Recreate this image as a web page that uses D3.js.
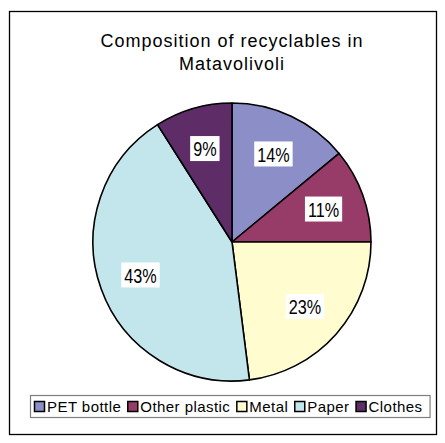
<!DOCTYPE html>
<html>
<head>
<meta charset="utf-8">
<script src="https://cdn.jsdelivr.net/npm/d3@7.9.0/dist/d3.min.js"></script>
<style>
  html, body { margin: 0; padding: 0; background: #fff; }
  svg { display: block; font-family: "Liberation Sans", Arial, sans-serif; }
</style>
</head>
<body>
<svg id="chart" width="445" height="443"></svg>
<script>
// data
const categories = ['PET bottle', 'Other plastic', 'Metal', 'Paper', 'Clothes'];
const shares = [14, 11, 23, 43, 9];
const colours = ['#8c8fc7', '#973b69', '#fffcd0', '#c3e6ec', '#5e2c67'];
const titleLines = ['Composition of recyclables in', 'Matavolivoli'];

const svg = d3.select('#chart');
const cx = 232, cy = 242, radius = 139;

// outer chart frame
svg.append('rect')
  .attr('x', 9.5).attr('y', 11.5)
  .attr('width', 427).attr('height', 423)
  .attr('fill', '#fff')
  .attr('stroke', '#000')
  .attr('stroke-width', 1.3);

// title
svg.append('g')
  .selectAll('text')
  .data(titleLines)
  .join('text')
  .attr('x', cx)
  .attr('y', (d, i) => 47 + i * 23)
  .attr('text-anchor', 'middle')
  .attr('font-size', 18)
  .attr('letter-spacing', 1)
  .attr('fill', '#000')
  .text((d) => d);

let data = categories.map((name, i) => ({ name, value: shares[i], colour: colours[i] }));

let pie = d3.pie().sort(null).value((d) => d.value);
let arcData = pie(data);
let arc = d3.arc().innerRadius(0).outerRadius(radius);
let labelArc = d3.arc().innerRadius(radius * 0.7).outerRadius(radius * 0.7);

let g = svg.append('g').attr('transform', `translate(${cx},${cy})`);

g.selectAll('path')
  .data(arcData)
  .join('path')
  .attr('d', arc)
  .attr('fill', (d) => d.data.colour)
  .attr('stroke', '#000')
  .attr('stroke-width', 1.6)
  .attr('stroke-linejoin', 'round');

// percentage labels with white boxes
let labels = g.selectAll('g.lbl')
  .data(arcData)
  .join('g')
  .attr('class', 'lbl')
  .attr('transform', (d) => `translate(${labelArc.centroid(d)})`);

labels.append('text')
  .attr('text-anchor', 'middle')
  .attr('dy', '0.37em')
  .attr('font-size', 18)
  .attr('transform', 'scale(0.9,1.15)')
  .attr('fill', '#000')
  .text((d) => d.data.value + '%');

labels.each(function () {
  let node = d3.select(this);
  let bb = node.select('text').node().getBBox();
  let w = bb.width * 0.9 + 6;
  node.insert('rect', 'text')
    .attr('x', -w / 2)
    .attr('y', -12.5)
    .attr('width', w)
    .attr('height', 25)
    .attr('fill', '#fff');
});

// legend
let legend = svg.append('g');
let legendBox = legend.append('rect')
  .attr('y', 395.5)
  .attr('height', 22)
  .attr('fill', '#fff')
  .attr('stroke', '#7f7f7f')
  .attr('stroke-width', 1.2);

let x = 34;
data.forEach((d) => {
  legend.append('rect')
    .attr('x', x + 0.5).attr('y', 401.5)
    .attr('width', 10).attr('height', 10)
    .attr('fill', d.colour)
    .attr('stroke', '#000')
    .attr('stroke-width', 1.5);
  let t = legend.append('text')
    .attr('x', x + 13)
    .attr('y', 412)
    .attr('font-size', 15)
    .attr('letter-spacing', 0.45)
    .attr('fill', '#000')
    .text(d.name);
  x += 13 + t.node().getComputedTextLength() + 6;
});

legendBox.attr('x', 30.5).attr('width', x - 30 + 1);
</script>
</body>
</html>
